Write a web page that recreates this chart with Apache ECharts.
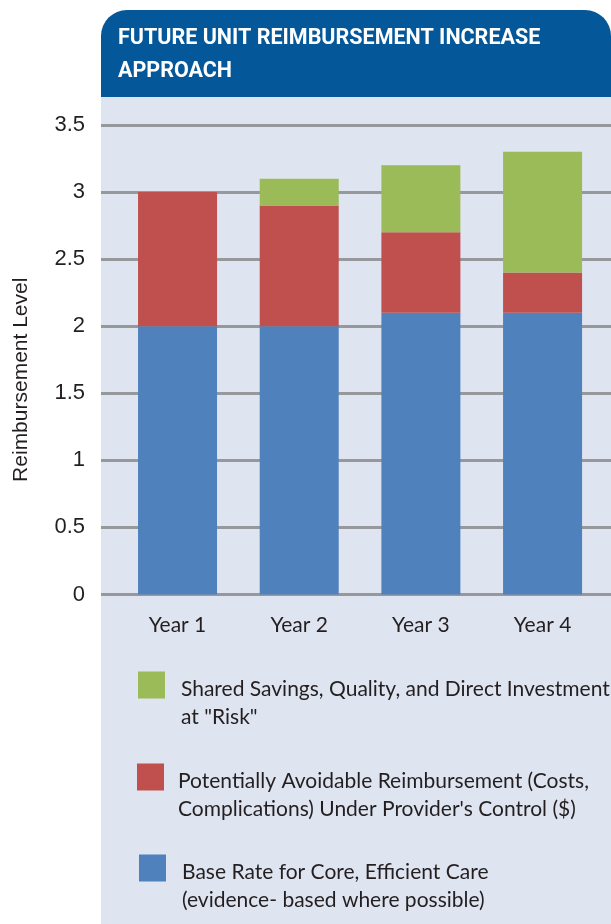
<!DOCTYPE html>
<html>
<head>
<meta charset="utf-8">
<script src="https://cdn.jsdelivr.net/npm/echarts@6/dist/echarts.min.js"></script>
<style>
  html, body { margin: 0; padding: 0; background: #fff; }
  #chart { width: 611px; height: 924px; }
</style>
</head>
<body>
<div id="chart"></div>
<script>
const years = ['Year 1', 'Year 2', 'Year 3', 'Year 4'];
const baseRate = [2, 2, 2.1, 2.1];
const avoidable = [1, 0.9, 0.6, 0.3];
const shared = [0, 0.2, 0.5, 0.9];
const yTicks = [0, 3.5, 0.5]; // min, max, interval

const seriesNames = [
  'Base Rate for Core, Efficient Care (evidence- based where possible)',
  'Potentially Avoidable Reimbursement (Costs, Complications) Under Provider\'s Control ($)',
  'Shared Savings, Quality, and Direct Investment at "Risk"'
];
const legendLines = [
  ['Base Rate for Core, Efficient Care', '(evidence- based where possible)'],
  ['Potentially Avoidable Reimbursement (Costs,', 'Complications) Under Provider\'s Control ($)'],
  ['Shared Savings, Quality, and Direct Investment', 'at "Risk"']
];
const colors = ['#4F81BD', '#C0504D', '#9BBB59'];

const textDark = '#231f20';
const chart = echarts.init(document.getElementById('chart'));

// one legend per item so each block sits where the picture has it.
// a blank spacer line on top keeps the first text line level with the square
const legendTops = [835, 744, 652];
const legendLefts = [139, 137, 138];
const legendPadLeft = [11, 9, 11];
const legends = seriesNames.map((name, i) => ({
  data: [name],
  left: legendLefts[i],
  top: legendTops[i],
  padding: 0,
  itemWidth: 27,
  itemHeight: 27,
  icon: 'rect',
  selectedMode: false,
  formatter: () => '{s| }\n' + legendLines[i].map(l => '{t|' + l + '}').join('\n'),
  textStyle: {
    padding: [0, 0, 0, legendPadLeft[i]],
    rich: {
      s: { fontSize: 10, lineHeight: 37 },
      t: { fontFamily: 'Lato', fontSize: 21, color: textDark, lineHeight: 28 }
    }
  }
}));

const option = {
  animation: false,
  backgroundColor: '#fff',
  graphic: [
    { type: 'rect', z: -10, shape: { x: 101, y: 90, width: 510, height: 834 }, style: { fill: '#dee4f0' } },
    { type: 'rect', z: -9, shape: { x: 101, y: 10, width: 510, height: 87, r: [26, 26, 0, 0] }, style: { fill: '#04589a' } }
  ],
  title: {
    text: 'FUTURE UNIT REIMBURSEMENT INCREASE\nAPPROACH',
    left: 118,
    top: 22,
    padding: 0,
    textStyle: {
      color: '#fff',
      fontFamily: 'Roboto',
      fontWeight: 'bold',
      fontSize: 21.5,
      lineHeight: 33
    }
  },
  legend: legends,
  grid: [
    { left: 101, right: 0, top: 125, bottom: 329.5 },
    { left: 116.7, width: 486.7, top: 125, bottom: 329.5 }
  ],
  xAxis: [
    { gridIndex: 0, type: 'category', data: years, show: false },
    {
      gridIndex: 1,
      type: 'category',
      data: years,
      axisLine: { show: false },
      axisTick: { show: false },
      axisLabel: { margin: 20, fontFamily: 'Lato', fontSize: 21, color: textDark }
    }
  ],
  yAxis: [
    {
      gridIndex: 0,
      type: 'value',
      min: yTicks[0],
      max: yTicks[1],
      interval: yTicks[2],
      axisLine: { show: false },
      axisTick: { show: false },
      splitLine: { lineStyle: { color: '#96989b', width: 3 } },
      axisLabel: { margin: 16, fontFamily: 'Liberation Sans', fontSize: 22, color: textDark },
      name: 'Reimbursement Level',
      nameLocation: 'middle',
      nameGap: 69,
      nameTextStyle: {
        fontFamily: 'Liberation Sans',
        fontSize: 21,
        color: textDark,
        padding: [0, 40, 0, 0]
      }
    },
    {
      gridIndex: 1,
      type: 'value',
      min: yTicks[0],
      max: yTicks[1],
      interval: yTicks[2],
      show: false,
      splitLine: { show: false }
    }
  ],
  series: [baseRate, avoidable, shared].map((data, i) => ({
    name: seriesNames[i],
    type: 'bar',
    stack: 'total',
    xAxisIndex: 1,
    yAxisIndex: 1,
    barWidth: 79,
    itemStyle: { color: colors[i] },
    data: data
  }))
};

chart.setOption(option);
</script>
</body>
</html>
